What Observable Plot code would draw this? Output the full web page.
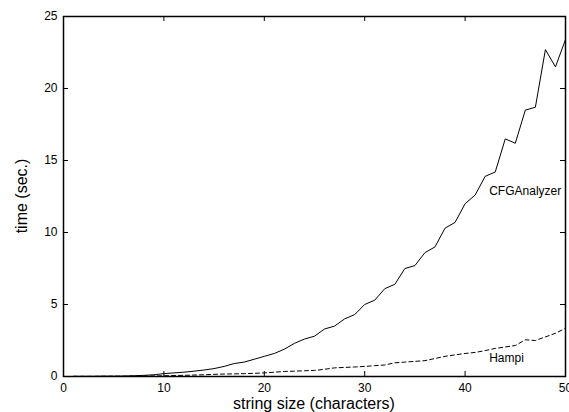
<!DOCTYPE html>
<html>
<head>
<meta charset="utf-8">
<script src="https://cdn.jsdelivr.net/npm/d3@7"></script>
<script src="https://cdn.jsdelivr.net/npm/@observablehq/plot@0.6"></script>
<style>
  html, body { margin: 0; padding: 0; background: white; overflow: hidden; }
  #chart svg { overflow: hidden; }
</style>
</head>
<body>
<div id="chart"></div>
<script>
// String sizes (characters)
const sizes = [1,2,3,4,5,6,7,8,9,10,11,12,13,14,15,16,17,18,19,20,21,22,23,24,25,26,27,28,29,30,31,32,33,34,35,36,37,38,39,40,41,42,43,44,45,46,47,48,49,50];
// CFGAnalyzer time (sec.)
const cfgTimes = [0.01,0.01,0.01,0.02,0.02,0.03,0.05,0.08,0.12,0.2,0.25,0.3,0.37,0.45,0.55,0.7,0.9,1.0,1.2,1.4,1.6,1.9,2.3,2.6,2.8,3.3,3.5,4.0,4.3,5.0,5.3,6.1,6.4,7.5,7.7,8.6,9.0,10.3,10.7,12.0,12.6,13.9,14.2,16.5,16.2,18.5,18.7,22.7,21.5,23.4];
// Hampi time (sec.)
const hampiTimes = [0.01,0.01,0.01,0.02,0.02,0.02,0.03,0.03,0.04,0.05,0.07,0.08,0.1,0.12,0.15,0.17,0.18,0.2,0.22,0.25,0.3,0.35,0.37,0.4,0.42,0.5,0.6,0.63,0.66,0.7,0.75,0.8,0.95,1.0,1.05,1.1,1.25,1.4,1.5,1.6,1.67,1.8,1.95,2.05,2.15,2.55,2.5,2.75,3.0,3.35];
// Tick values
const xTicks = [0,10,20,30,40,50];
const yTicks = [0,5,10,15,20,25];
// Series labels (data coordinates)
const seriesLabels = [
  {name: "CFGAnalyzer", x: 42.4, y: 12.9},
  {name: "Hampi", x: 42.4, y: 1.3}
];

const cfg = sizes.map((s, i) => ({x: s, y: cfgTimes[i]}));
const hampi = sizes.map((s, i) => ({x: s, y: hampiTimes[i]}));

const W = 569, H = 412;
const mL = 63, mR = 4, mT = 16, mB = 36;
const fw = W - mL - mR, fh = H - mT - mB;
const tl = 5;

const chart = Plot.plot({
  width: W,
  height: H,
  marginLeft: mL,
  marginRight: mR,
  marginTop: mT,
  marginBottom: mB,
  style: {fontFamily: "'Liberation Sans', Arial, Helvetica, sans-serif", fontSize: "11px", color: "black", background: "white"},
  x: {domain: [0, 50]},
  y: {domain: [0, 25]},
  marks: [
    Plot.axisX({ticks: xTicks, tickSize: 0, tickPadding: 7, tickFormat: d => String(d), fontSize: 12, label: null}),
    Plot.axisY({ticks: yTicks, tickSize: 0, tickPadding: 6, tickFormat: d => String(d), fontSize: 12, label: null}),
    // inward ticks, all four sides
    Plot.tickX(xTicks, {x: d => d, insetTop: fh - tl, stroke: "black", strokeWidth: 1}),
    Plot.tickX(xTicks, {x: d => d, insetBottom: fh - tl, stroke: "black", strokeWidth: 1}),
    Plot.tickY(yTicks, {y: d => d, insetRight: fw - tl, stroke: "black", strokeWidth: 1}),
    Plot.tickY(yTicks, {y: d => d, insetLeft: fw - tl, stroke: "black", strokeWidth: 1}),
    Plot.line(cfg, {x: "x", y: "y", stroke: "black", strokeWidth: 1}),
    Plot.line(hampi, {x: "x", y: "y", stroke: "black", strokeWidth: 1, strokeDasharray: "4,3"}),
    Plot.text(seriesLabels, {x: "x", y: "y", text: "name", textAnchor: "start", fontSize: 12, fill: "black"}),
    Plot.frame({stroke: "black", strokeWidth: 1.5})
  ]
});

const svg = d3.select(chart);
// Axis titles
svg.append("text")
  .attr("x", mL + fw / 2)
  .attr("y", H - 3)
  .attr("text-anchor", "middle")
  .style("font-family", "'Liberation Sans', Arial, Helvetica, sans-serif")
  .style("font-size", "16px")
  .text("string size (characters)");
svg.append("text")
  .attr("transform", `translate(27,${mT + fh / 2}) rotate(-90)`)
  .attr("text-anchor", "middle")
  .style("font-family", "'Liberation Sans', Arial, Helvetica, sans-serif")
  .style("font-size", "16px")
  .text("time (sec.)");

document.getElementById("chart").appendChild(chart);
</script>
</body>
</html>
